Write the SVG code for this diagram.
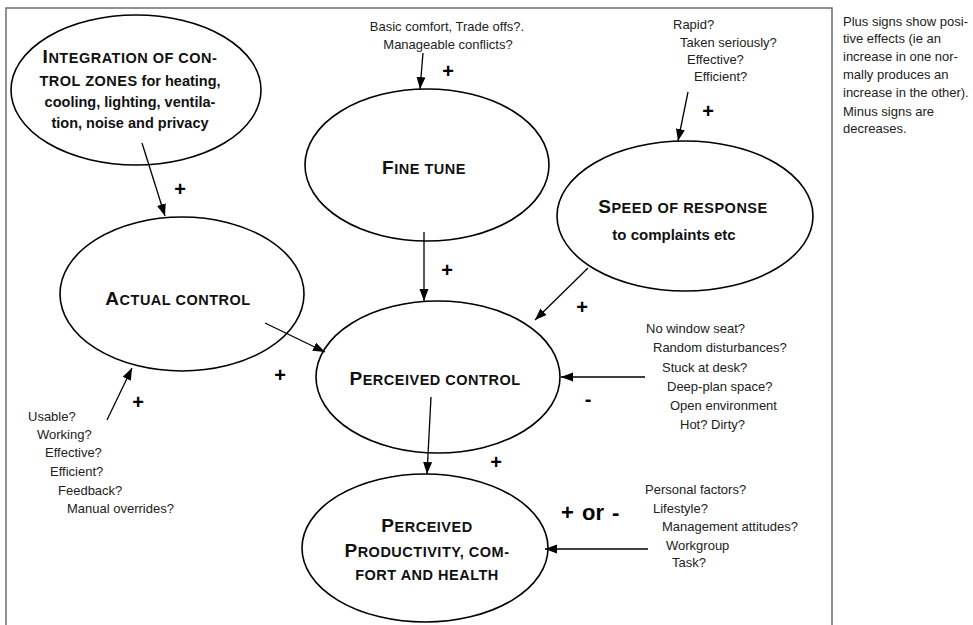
<svg xmlns="http://www.w3.org/2000/svg" width="973" height="625" viewBox="0 0 973 625">
<style>
.frame{fill:none;stroke:#6e6e6e;stroke-width:1.5}
.node ellipse{fill:#fff;stroke:#000;stroke-width:1.6}
.nt{font-family:"Liberation Sans",Arial,sans-serif;font-weight:bold;font-size:14.5px;fill:#111;text-anchor:middle}
.sc{letter-spacing:0.5px}
.big{font-size:19px}
.lbl{font-family:"Liberation Sans",Arial,sans-serif;font-size:13px;fill:#222}
.sign{font-family:"Liberation Sans",Arial,sans-serif;font-weight:bold;font-size:20px;fill:#000;text-anchor:middle}
.conn line{stroke:#000;stroke-width:1.3;marker-end:url(#ah)}
</style>
<defs>
<marker id="ah" markerUnits="userSpaceOnUse" markerWidth="13" markerHeight="10" refX="12" refY="4.5" orient="auto">
<path d="M0,0 L12,4.5 L0,9 z" fill="#000"/>
</marker>
</defs>
<rect x="0" y="0" width="973" height="625" fill="#fff"/>
<rect class="frame" x="6" y="8" width="826" height="650"/>

<g id="integration" class="node">
<ellipse cx="136" cy="90" rx="125" ry="75"/>
<text class="nt" x="130" y="63"><tspan class="sc"><tspan class="big">I</tspan>NTEGRATION OF CON-</tspan></text>
<text class="nt" x="130" y="86"><tspan class="sc">TROL ZONES</tspan> for heating,</text>
<text class="nt" x="130" y="107">cooling, lighting, ventila-</text>
<text class="nt" x="130" y="128">tion, noise and privacy</text>
</g>

<g id="finetune" class="node">
<ellipse cx="427" cy="165" rx="122" ry="76"/>
<text class="nt sc" x="424" y="174"><tspan class="big">F</tspan>INE TUNE</text>
</g>

<g id="speed" class="node">
<ellipse cx="685" cy="216" rx="128" ry="75"/>
<text class="nt sc" x="683" y="213"><tspan class="big">S</tspan>PEED OF RESPONSE</text>
<text class="nt" x="674" y="240" style="font-size:15px">to complaints etc</text>
</g>

<g id="actual" class="node">
<ellipse cx="182" cy="294" rx="122" ry="77"/>
<text class="nt sc" x="178" y="305"><tspan class="big">A</tspan>CTUAL CONTROL</text>
</g>

<g id="perceived" class="node">
<ellipse cx="438" cy="377" rx="122" ry="76"/>
<text class="nt sc" x="435" y="385"><tspan class="big">P</tspan>ERCEIVED CONTROL</text>
</g>

<g id="productivity" class="node">
<ellipse cx="425" cy="548" rx="123" ry="74"/>
<text class="nt sc" x="427" y="532"><tspan class="big">P</tspan>ERCEIVED</text>
<text class="nt sc" x="427" y="557"><tspan class="big">P</tspan>RODUCTIVITY, COM-</text>
<text class="nt sc" x="427" y="580">FORT AND HEALTH</text>
</g>

<g id="connectors" class="conn">
<line x1="142" y1="143" x2="165" y2="216"/>
<line x1="423" y1="53" x2="420" y2="89"/>
<line x1="688" y1="92" x2="678" y2="141"/>
<line x1="424" y1="232" x2="424" y2="301"/>
<line x1="588" y1="268" x2="535" y2="320"/>
<line x1="265" y1="323" x2="325" y2="352"/>
<line x1="107" y1="420" x2="132" y2="368"/>
<line x1="645" y1="377" x2="561" y2="377"/>
<line x1="431" y1="397" x2="427" y2="474"/>
<line x1="648" y1="549" x2="545" y2="549"/>
</g>

<g id="signs">
<text class="sign" x="180" y="196">+</text>
<text class="sign" x="448" y="78">+</text>
<text class="sign" x="708" y="118">+</text>
<text class="sign" x="447" y="277">+</text>
<text class="sign" x="582" y="314">+</text>
<text class="sign" x="280" y="382">+</text>
<text class="sign" x="138" y="409">+</text>
<text class="sign" x="588" y="406">-</text>
<text class="sign" x="496" y="469">+</text>
<text class="sign" x="561" y="520" style="text-anchor:start;font-size:22px;word-spacing:2px">+ or -</text>
</g>

<g id="label-finetune" class="lbl">
<text x="447" y="31" text-anchor="middle">Basic comfort, Trade offs?.</text>
<text x="448" y="49" text-anchor="middle">Manageable conflicts?</text>
</g>

<g id="label-speed" class="lbl">
<text x="673" y="29">Rapid?</text>
<text x="680" y="47">Taken seriously?</text>
<text x="687" y="64">Effective?</text>
<text x="694" y="81">Efficient?</text>
</g>

<g id="label-actual" class="lbl">
<text x="28" y="421">Usable?</text>
<text x="37" y="439">Working?</text>
<text x="45" y="457">Effective?</text>
<text x="50" y="476">Efficient?</text>
<text x="58" y="495">Feedback?</text>
<text x="67" y="513">Manual overrides?</text>
</g>

<g id="label-perceived" class="lbl">
<text x="646" y="333">No window seat?</text>
<text x="653" y="352">Random disturbances?</text>
<text x="662" y="372">Stuck at desk?</text>
<text x="667" y="391">Deep-plan space?</text>
<text x="670" y="410">Open environment</text>
<text x="680" y="429">Hot? Dirty?</text>
</g>

<g id="label-productivity" class="lbl">
<text x="645" y="494">Personal factors?</text>
<text x="653" y="513">Lifestyle?</text>
<text x="662" y="531">Management attitudes?</text>
<text x="666" y="550">Workgroup</text>
<text x="672" y="567">Task?</text>
</g>

<g id="note" class="lbl">
<text x="843" y="26">Plus signs show posi-</text>
<text x="843" y="43">tive effects (ie an</text>
<text x="843" y="61">increase in one nor-</text>
<text x="843" y="79">mally produces an</text>
<text x="843" y="97">increase in the other).</text>
<text x="843" y="116">Minus signs are</text>
<text x="843" y="133">decreases.</text>
</g>
</svg>
